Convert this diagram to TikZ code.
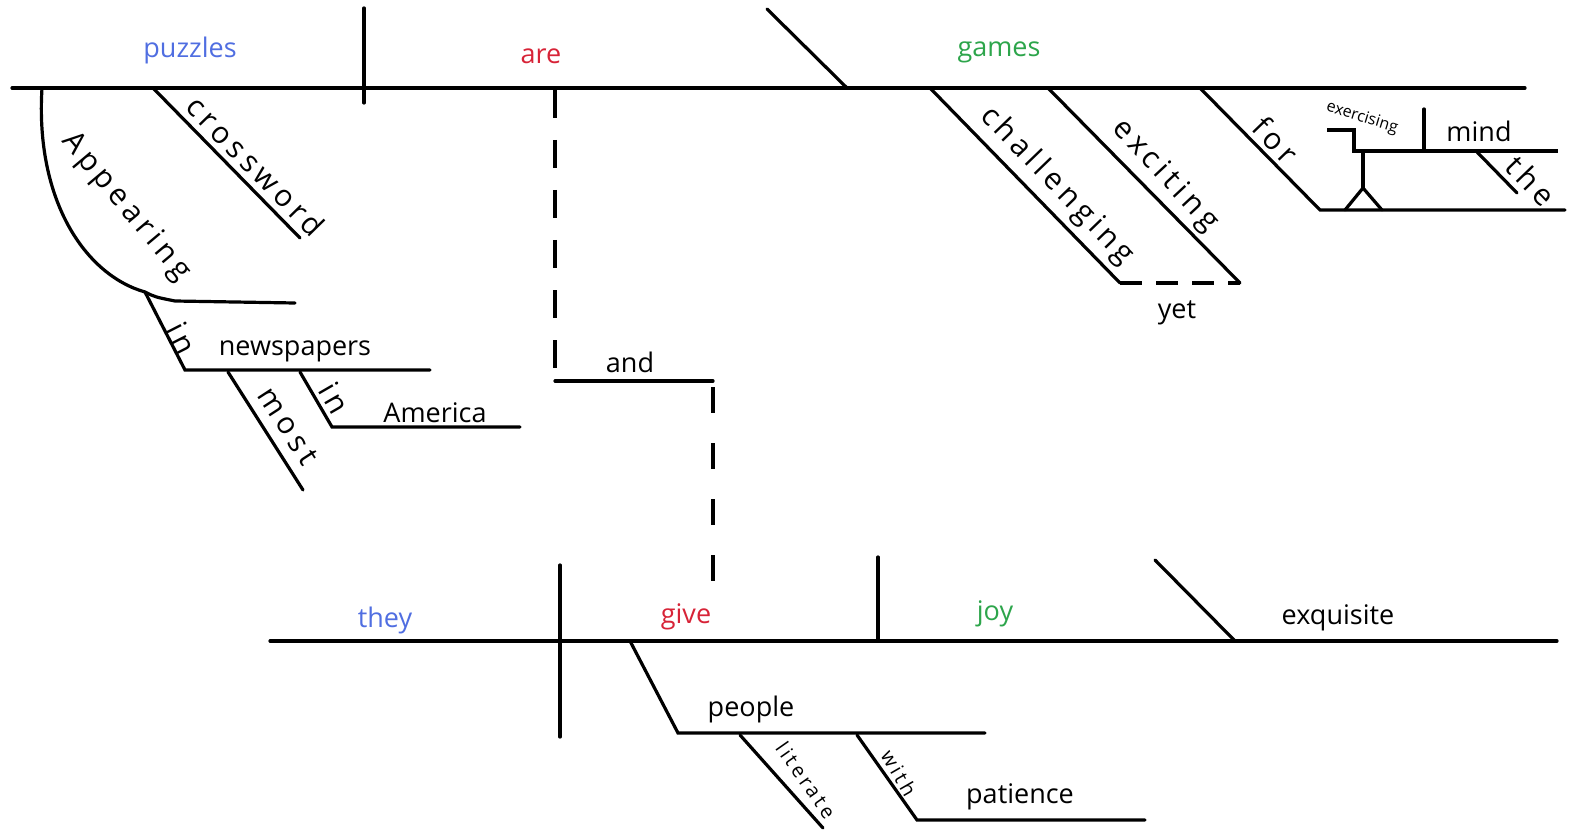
\documentclass[tikz,border=0pt]{standalone}
\usepackage{fontspec}
\setmainfont{Open Sans}
\newfontfamily\spacedfont[LetterSpace=16]{Open Sans}
\definecolor{subjblue}{RGB}{80,110,225}
\definecolor{verbred}{RGB}{215,35,55}
\definecolor{objgreen}{RGB}{45,165,75}
\begin{document}
\begin{tikzpicture}[x=1pt,y=-1pt, line width=3.2pt, line cap=round,
  word/.style={font=\fontsize{27}{30}\selectfont, inner sep=0pt, anchor=base},
  rword/.style={font=\spacedfont\fontsize{30}{32}\selectfont, inner sep=0pt},
  small/.style={font=\spacedfont\fontsize{20}{22}\selectfont, inner sep=0pt},
  tiny/.style={font=\fontsize{16}{18}\selectfont, inner sep=0pt},
  dashV/.style={line cap=butt, dash pattern=on 28pt off 22pt},
  dashW/.style={line cap=butt, dash pattern=on 26pt off 30pt},
  dashH/.style={line cap=butt, dash pattern=on 22pt off 14pt}]
\useasboundingbox (0,0) rectangle (1570,834);
% ---------- top clause ----------
\coordinate (tL) at (12,88);   \coordinate (tR) at (1525,88);
\coordinate (d1t) at (364,8);  \coordinate (d1b) at (364,103);
\coordinate (s1t) at (767,9);  \coordinate (s1b) at (847,88);
\draw (tL) -- (tR);
\draw (d1t) -- (d1b);
\draw (s1t) -- (s1b);
\node[word, text=subjblue] (puzzles) at (190,58) {puzzles};
\node[word, text=verbred] (are) at (541,64) {are};
\node[word, text=objgreen] (games) at (999,57) {games};
% crossword
\coordinate (cw1) at (153,88); \coordinate (cw2) at (300,238);
\draw (cw1) -- (cw2);
\node[rword, rotate=-45.6] (crossword) at (256,166) {crossword};
% Appearing participle
\coordinate (ap0) at (42,88); \coordinate (ap1) at (145,292);
\coordinate (ap2) at (175,301); \coordinate (ap3) at (295,303);
\draw (ap0) .. controls (35,200) and (85,275) .. (ap1) .. controls (155,297) .. (ap2) -- (ap3);
\node[rword, rotate=-50] (appearing) at (126,207) {Appearing};
% in newspapers
\coordinate (in1) at (185,370); \coordinate (np2) at (430,370);
\draw (ap1) -- (in1) -- (np2);
\node[rword, rotate=-63] (inA) at (182,338) {in};
\node[word] (newspapers) at (295,355) {newspapers};
% most
\coordinate (m1) at (228,372); \coordinate (m2) at (303,490);
\draw (m1) -- (m2);
\node[rword, rotate=-57] (most) at (288,426) {most};
% in America
\coordinate (ia1) at (300,372); \coordinate (ia2) at (332,427); \coordinate (ia3) at (520,427);
\draw (ia1) -- (ia2) -- (ia3);
\node[rword, rotate=-60] (inB) at (335,398) {in};
\node[word] (america) at (435,422) {America};
% challenging / exciting / yet
\coordinate (ch1) at (930,88); \coordinate (ch2) at (1120,283);
\coordinate (ex1) at (1048,88); \coordinate (ex2) at (1240,283);
\draw (ch1) -- (ch2);
\draw (ex1) -- (ex2);
\draw[dashH] (ch2) -- (ex2);
\node[rword, rotate=-46] (challenging) at (1057,186) {challenging};
\node[rword, rotate=-47] (exciting) at (1165,176) {exciting};
\node[word] (yet) at (1177,318) {yet};
% for (exercising the mind)
\coordinate (f1) at (1200,88); \coordinate (f2) at (1320,210); \coordinate (f3) at (1565,210);
\draw (f1) -- (f2) -- (f3);
\node[rword, rotate=-46] (for) at (1276,140) {for};
\coordinate (g1) at (1327,130); \coordinate (g2) at (1354,130);
\coordinate (g3) at (1354,151); \coordinate (g4) at (1558,151);
\draw[line cap=butt] (g1) -- (g2) -- (g3) -- (g4);
\coordinate (gd1) at (1424,109); \coordinate (gd2) at (1424,151);
\draw (gd1) -- (gd2);
\coordinate (st1) at (1363,151); \coordinate (st2) at (1363,188);
\coordinate (sl) at (1345,210); \coordinate (sr) at (1382,210);
\draw (st1) -- (st2);
\draw (sl) -- (st2) -- (sr);
\node[tiny, rotate=-17] (exercising) at (1362,118) {exercising};
\node[word] (mind) at (1479,142) {mind};
\coordinate (th1) at (1477,152); \coordinate (th2) at (1517,193);
\draw (th1) -- (th2);
\node[rword, rotate=-46] (the) at (1531,181) {the};
% connector: and
\coordinate (and1) at (555,90); \coordinate (and2) at (555,381);
\coordinate (and3) at (713,381); \coordinate (and4) at (713,590);
\draw[dashV] (and1) -- (and2);
\draw (and2) -- (and3);
\draw[dashW] ([yshift=-6pt]and3) -- (and4);
\node[word] (and) at (630,372) {and};
% ---------- bottom clause ----------
\coordinate (bL) at (270,641); \coordinate (bR) at (1557,641);
\draw (bL) -- (bR);
\coordinate (d2t) at (560,565); \coordinate (d2b) at (560,737);
\draw (d2t) -- (d2b);
\coordinate (d3t) at (878,557); \coordinate (d3b) at (878,641);
\draw (d3t) -- (d3b);
\coordinate (s2t) at (1155,560); \coordinate (s2b) at (1235,641);
\draw (s2t) -- (s2b);
\node[word, text=subjblue] (they) at (385,627) {they};
\node[word, text=verbred] (give) at (686,623) {give};
\node[word, text=objgreen] (joy) at (995,620) {joy};
\node[word] (exquisite) at (1338,624) {exquisite};
% people
\coordinate (p1) at (630,641); \coordinate (p2) at (678,733); \coordinate (p3) at (985,733);
\draw (p1) -- (p2) -- (p3);
\node[word] (people) at (751,716) {people};
\coordinate (l1) at (740,735); \coordinate (l2) at (823,828);
\draw (l1) -- (l2);
\node[small, rotate=-55] (literate) at (806,780) {literate};
\coordinate (w1) at (857,735); \coordinate (w2) at (917,820); \coordinate (w3) at (1145,820);
\draw (w1) -- (w2) -- (w3);
\node[small, rotate=-60] (with) at (899,773) {with};
\node[word] (patience) at (1020,803) {patience};
\end{tikzpicture}
\end{document}
